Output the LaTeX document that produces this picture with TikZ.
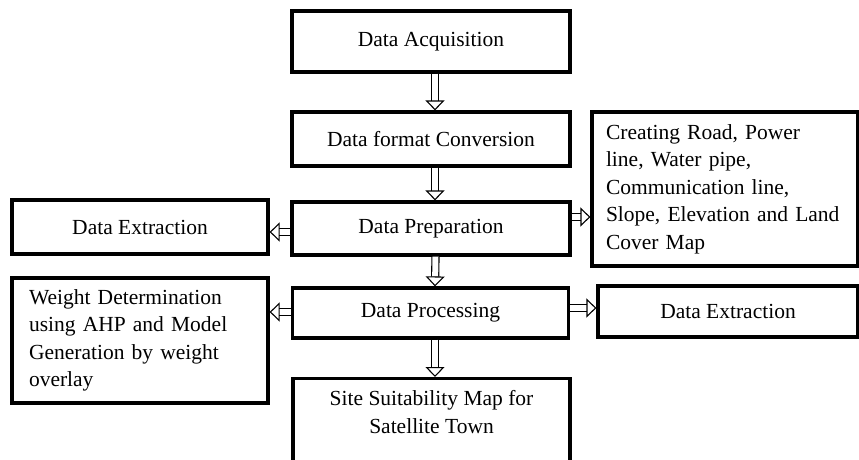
\documentclass[tikz,border=0pt]{standalone}
\usepackage{fontspec}
\setmainfont{Liberation Serif}
\usetikzlibrary{arrows.meta, positioning, calc}

\begin{document}
\begin{tikzpicture}[x=1pt, y=-1pt,
    box/.style={draw, line width=3.2pt, inner sep=0pt, align=center,
        font=\fontsize{21.5}{27.5}\selectfont},
    listbox/.style={box, align=left},
    flow/.style={double, double distance=6pt, line width=1.1pt,
        -{Triangle[open, length=10pt, width=19pt, line width=1.1pt]}}]
    \useasboundingbox (0,0) rectangle (859,460);
    \clip (0,0) rectangle (859,460);
    % main column
    \node[box, minimum width=278pt, minimum height=61pt] (acq) at (431,41.5) {Data Acquisition};
    \node[box, minimum width=278pt, minimum height=54pt] (conv) at (431,139) {Data format Conversion};
    \node[box, minimum width=278pt, minimum height=53pt] (prep) at (431,228.5) {Data Preparation};
    \node[box, minimum width=276pt, minimum height=50pt] (proc) at (430.5,313) {Data Processing};
    \node[box, minimum width=277pt, inner ysep=12pt, text depth=50pt, anchor=north] (site) at (431.5,377)
        {Site Suitability Map for\\Satellite Town};
    % side boxes
    \node[box, minimum width=256pt, minimum height=54pt] (extl) at (140,227) {Data Extraction};
    \node[listbox, inner xsep=17pt, text width=222pt, minimum height=125pt] (wgt) at (140,340.5)
        {Weight Determination\\using AHP and Model\\Generation by weight\\overlay};
    \node[listbox, inner xsep=14pt, text width=238pt, minimum height=154pt] (road) at (725,189)
        {Creating Road, Power\\line, Water pipe,\\Communication line,\\Slope, Elevation and Land\\Cover Map};
    \node[box, minimum width=260pt, minimum height=51pt] (extr) at (728,311.5) {Data Extraction};
    % arrows
    \draw[flow] ([xshift=4pt]acq.south) -- ([xshift=4pt]conv.north);
    \draw[flow] ([xshift=4pt]conv.south) -- ([xshift=4pt]prep.north);
    \draw[flow] ([xshift=4.5pt]prep.south) -- ([xshift=4.5pt]proc.north);
    \draw[flow] ([xshift=4.5pt]proc.south) -- ([xshift=3.5pt]site.north);
    \draw[flow] ([yshift=-3.5pt]prep.west) -- ([yshift=-3.5pt]prep.west -| extl.east);
    \draw[flow] ([yshift=11.5pt]prep.east) -- ([yshift=11.5pt]prep.east -| road.west);
    \draw[flow] ([yshift=1pt]proc.west) -- ([yshift=1pt]proc.west -| wgt.east);
    \draw[flow] ([yshift=5pt]proc.east) -- ([yshift=5pt]proc.east -| extr.west);
\end{tikzpicture}
\end{document}
